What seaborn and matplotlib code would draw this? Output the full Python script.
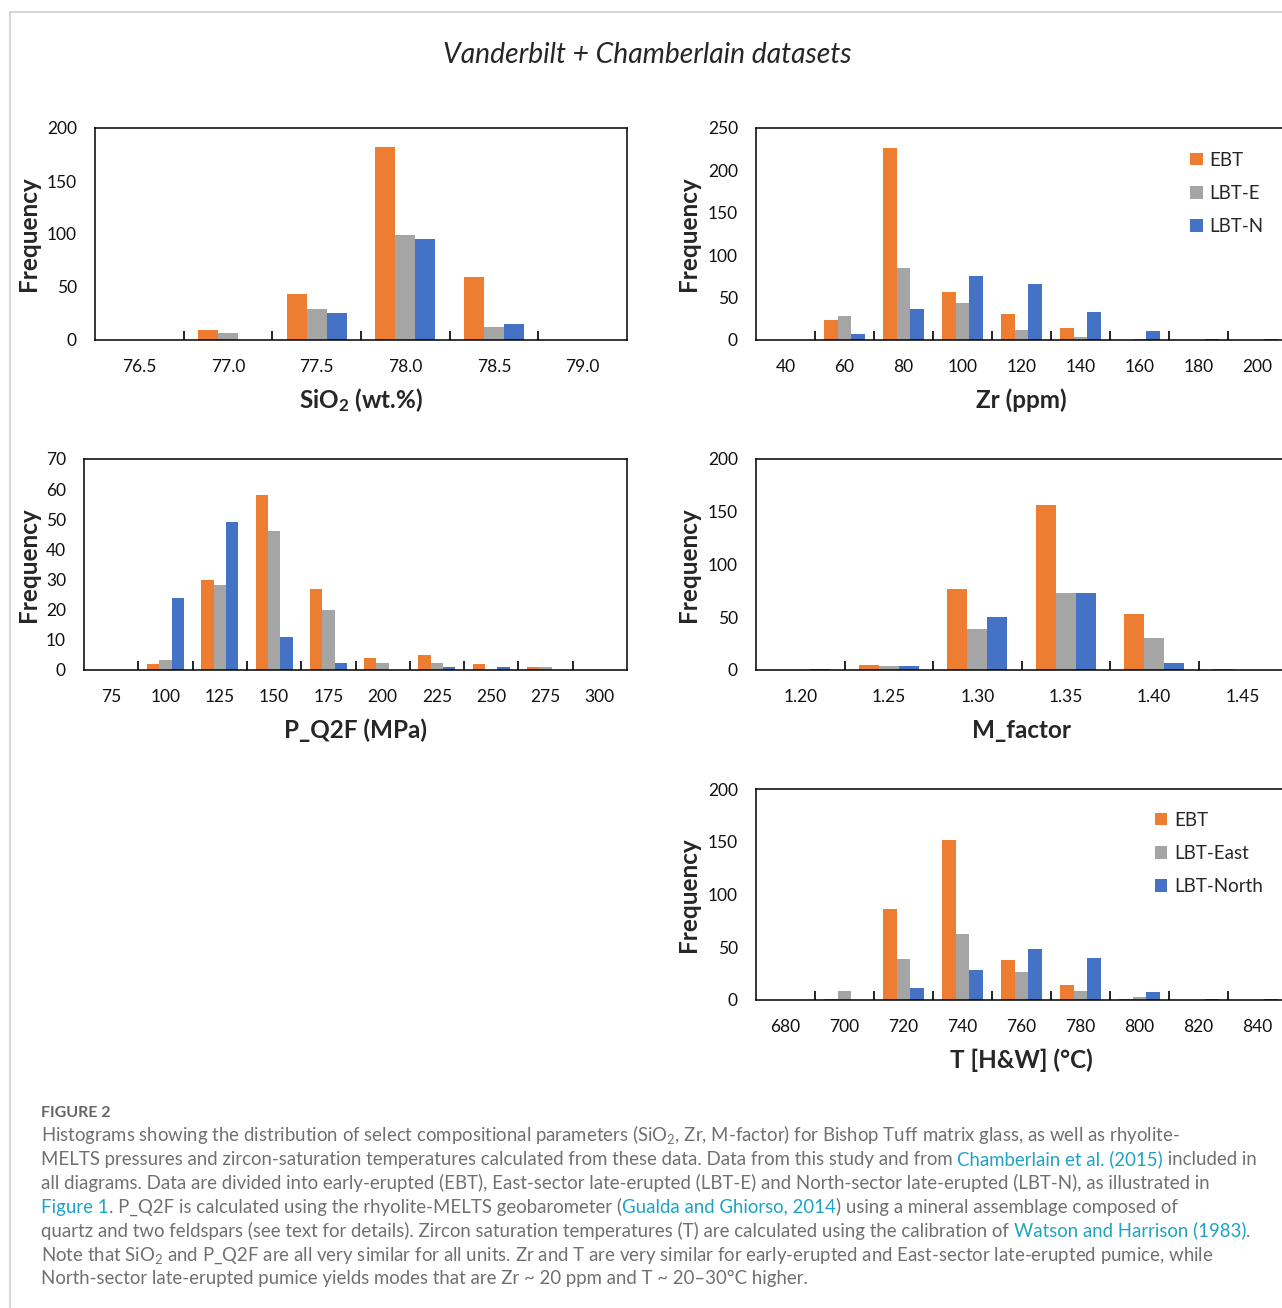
import matplotlib
matplotlib.use("Agg")
import matplotlib.pyplot as plt
import seaborn as sns
import pandas as pd
import numpy as np
from matplotlib.lines import Line2D
from matplotlib.patches import Patch

# ---------------- data ----------------
groups = ["EBT", "LBT-E", "LBT-N"]
colors = ["#ED7D31", "#A5A5A5", "#4472C4"]

sio2_bins = ["76.5", "77.0", "77.5", "78.0", "78.5", "79.0"]
sio2_ebt = [0, 9, 43, 182, 59, 0]
sio2_lbte = [0, 7, 29, 99, 12, 0]
sio2_lbtn = [0, 0, 25, 95, 15, 0]

zr_bins = ["40", "60", "80", "100", "120", "140", "160", "180", "200"]
zr_ebt = [0, 23, 226, 57, 31, 14, 0, 0, 0]
zr_lbte = [0, 28, 85, 44, 12, 4, 1, 0, 0]
zr_lbtn = [0, 7, 36, 75, 66, 33, 11, 1, 1]

p_bins = ["75", "100", "125", "150", "175", "200", "225", "250", "275", "300"]
p_ebt = [0, 2, 30, 58, 27, 4, 5, 2, 1, 0]
p_lbte = [0, 3.2, 28.3, 46, 20, 2.3, 2.3, 0, 1, 0]
p_lbtn = [0, 24, 49, 11, 2.3, 0, 1, 1, 0, 0]

m_bins = ["1.20", "1.25", "1.30", "1.35", "1.40", "1.45"]
m_ebt = [0, 5, 77, 156, 53, 1]
m_lbte = [0, 3.5, 39, 73, 30, 0]
m_lbtn = [1, 3.5, 50, 73, 6.6, 0]

t_bins = ["680", "700", "720", "740", "760", "780", "800", "820", "840"]
t_ebt = [0, 1, 86, 152, 38, 14.5, 1, 0, 0]
t_lbte = [0, 8.5, 39, 63, 27, 8.5, 2.5, 0, 0]
t_lbtn = [0, 0, 11, 28, 48, 40, 8, 1, 1]

legend1_labels = ["EBT", "LBT-E", "LBT-N"]
legend2_labels = ["EBT", "LBT-East", "LBT-North"]

title_text = "Vanderbilt + Chamberlain datasets"

# ---------------- style ----------------
sns.set_style("white")
plt.rcParams["font.family"] = ["Lato", "DejaVu Sans"]
plt.rcParams["mathtext.fontset"] = "custom"
plt.rcParams["mathtext.rm"] = "Lato"
plt.rcParams["mathtext.it"] = "Lato:italic"
plt.rcParams["mathtext.bf"] = "Lato:bold"

W, H = 1282, 1308
fig = plt.figure(figsize=(W / 100, H / 100), dpi=100)
fig.patch.set_facecolor("white")

TICK_FS = 12.5
LABEL_FS = 17.5


def panel(rect, bins, series, ymax, ystep, xlabel, ylab_x, legend_labels=None, leg_anchor=None):
    l, r, t, b = rect
    ax = fig.add_axes([l / W, 1 - b / H, (r - l) / W, (b - t) / H])
    df = pd.concat(
        [pd.DataFrame({"bin": bins, "group": g, "count": v}) for g, v in zip(groups, series)],
        ignore_index=True,
    )
    sns.barplot(
        data=df, x="bin", y="count", hue="group", order=bins, hue_order=groups,
        palette=colors, width=0.68, gap=0, saturation=1, linewidth=0,
        legend=False, ax=ax,
    )
    n = len(bins)
    ax.set_xlim(-0.5, n - 0.5)
    ax.set_ylim(0, ymax)
    ax.set_yticks(np.arange(0, ymax + 1, ystep))
    ax.set_xticks(range(n))
    ax.set_xticklabels(bins)
    ax.set_xticks(np.arange(0.5, n - 1, 1), minor=True)
    ax.tick_params(axis="x", which="major", length=0, pad=14, labelsize=TICK_FS, labelcolor="#111111")
    ax.tick_params(axis="x", which="minor", direction="in", length=6.5, width=1.2, color="black", bottom=True)
    ax.tick_params(axis="y", length=0, pad=13, labelsize=TICK_FS, labelcolor="#111111")
    for s in ax.spines.values():
        s.set_visible(True)
        s.set_color("black")
        s.set_linewidth(1.1)
    ax.set_xlabel(xlabel, fontsize=LABEL_FS, fontweight="bold", va="center")
    ax.xaxis.set_label_coords(0.5, -60 / (b - t))
    ax.set_ylabel("Frequency", fontsize=LABEL_FS, fontweight="bold", va="center")
    ax.yaxis.set_label_coords((ylab_x - l) / (r - l), 0.5)
    ax.grid(False)
    if legend_labels is not None:
        handles = [Patch(facecolor=c, edgecolor="none") for c in colors]
        ax.legend(
            handles, legend_labels, loc="upper left", bbox_to_anchor=leg_anchor,
            frameon=False, fontsize=13.5, handlelength=0.65, handleheight=0.65,
            handletextpad=0.35, labelspacing=0.86, borderpad=0, borderaxespad=0,
        )
    return ax


panel((95, 627, 128, 340), sio2_bins, [sio2_ebt, sio2_lbte, sio2_lbtn], 200, 50,
      r"SiO$_\mathbf{2}$ (wt.%)", 28)
panel((756, 1287, 128, 340), zr_bins, [zr_ebt, zr_lbte, zr_lbtn], 250, 50,
      "Zr (ppm)", 688, legend1_labels, (0.818, 0.888))
panel((84, 627, 459, 670), p_bins, [p_ebt, p_lbte, p_lbtn], 70, 10,
      "P_Q2F (MPa)", 28)
panel((756, 1287, 459, 670), m_bins, [m_ebt, m_lbte, m_lbtn], 200, 50,
      "M_factor", 688)
panel((756, 1287, 789, 1000), t_bins, [t_ebt, t_lbte, t_lbtn], 200, 50,
      "T [H&W] (°C)", 688, legend2_labels, (0.752, 0.892))

fig.text(647 / W, 1 - 55 / H, title_text, style="italic", fontsize=20.3,
         ha="center", va="center")

# frame of the figure page
fig.add_artist(Line2D([10 / W, 1.0], [1 - 12 / H, 1 - 12 / H], color="#cfcfcf", lw=1.2))
fig.add_artist(Line2D([10 / W, 10 / W], [0, 1 - 12 / H], color="#cfcfcf", lw=1.2))

# ---------------- caption ----------------
txt_c = "#707070"
link_c = "#1ea3c6"
cap_lines = [
    [("Histograms showing the distribution of select compositional parameters (SiO$_2$, Zr, M-factor) for Bishop Tuff matrix glass, as well as rhyolite-", txt_c)],
    [("MELTS pressures and zircon-saturation temperatures calculated from these data. Data from this study and from ", txt_c),
     ("Chamberlain et al. (2015)", link_c), (" included in", txt_c)],
    [("all diagrams. Data are divided into early-erupted (EBT), East-sector late-erupted (LBT-E) and North-sector late-erupted (LBT-N), as illustrated in", txt_c)],
    [("Figure 1", link_c), (". P_Q2F is calculated using the rhyolite-MELTS geobarometer (", txt_c),
     ("Gualda and Ghiorso, 2014", link_c), (") using a mineral assemblage composed of", txt_c)],
    [("quartz and two feldspars (see text for details). Zircon saturation temperatures (T) are calculated using the calibration of ", txt_c),
     ("Watson and Harrison (1983)", link_c), (".", txt_c)],
    [("Note that SiO$_2$ and P_Q2F are all very similar for all units. Zr and T are very similar for early-erupted and East-sector late-erupted pumice, while", txt_c)],
    [("North-sector late-erupted pumice yields modes that are Zr ~ 20 ppm and T ~ 20–30°C higher.", txt_c)],
]

renderer = fig.canvas.get_renderer()


def text_width(s, fs):
    t = fig.text(0, 0, s + "|", fontsize=fs)
    w1 = t.get_window_extent(renderer).width
    t.remove()
    t2 = fig.text(0, 0, "|", fontsize=fs)
    w2 = t2.get_window_extent(renderer).width
    t2.remove()
    return w1 - w2


def line_end(segs, fs):
    prefix = ""
    for s, _ in segs[:-1]:
        prefix += s
    x = text_width(prefix, fs) if prefix else 0
    t = fig.text(0, 0, segs[-1][0], fontsize=fs)
    w = t.get_window_extent(renderer).width
    t.remove()
    return x + w


# fit caption size so that the widest line spans the text column
cap_fs = 12.0
target = 1260 - 41
for _ in range(4):
    w_max = max(line_end(segs, cap_fs) for segs in cap_lines)
    cap_fs = cap_fs * target / w_max

fig.text(41 / W, 1 - 1117 / H, "FIGURE 2", fontsize=11.5, fontweight="bold", color="#666666",
         ha="left", va="baseline")

base0 = 1141
step = 23.9
for i, segs in enumerate(cap_lines):
    y = 1 - (base0 + i * step) / H
    prefix = ""
    for s, c in segs:
        x = 41 + text_width(prefix, cap_fs) if prefix else 41
        fig.text(x / W, y, s, fontsize=cap_fs, color=c,
                 ha="left", va="baseline")
        prefix += s

fig.savefig("out.png", dpi=100, facecolor="white")
